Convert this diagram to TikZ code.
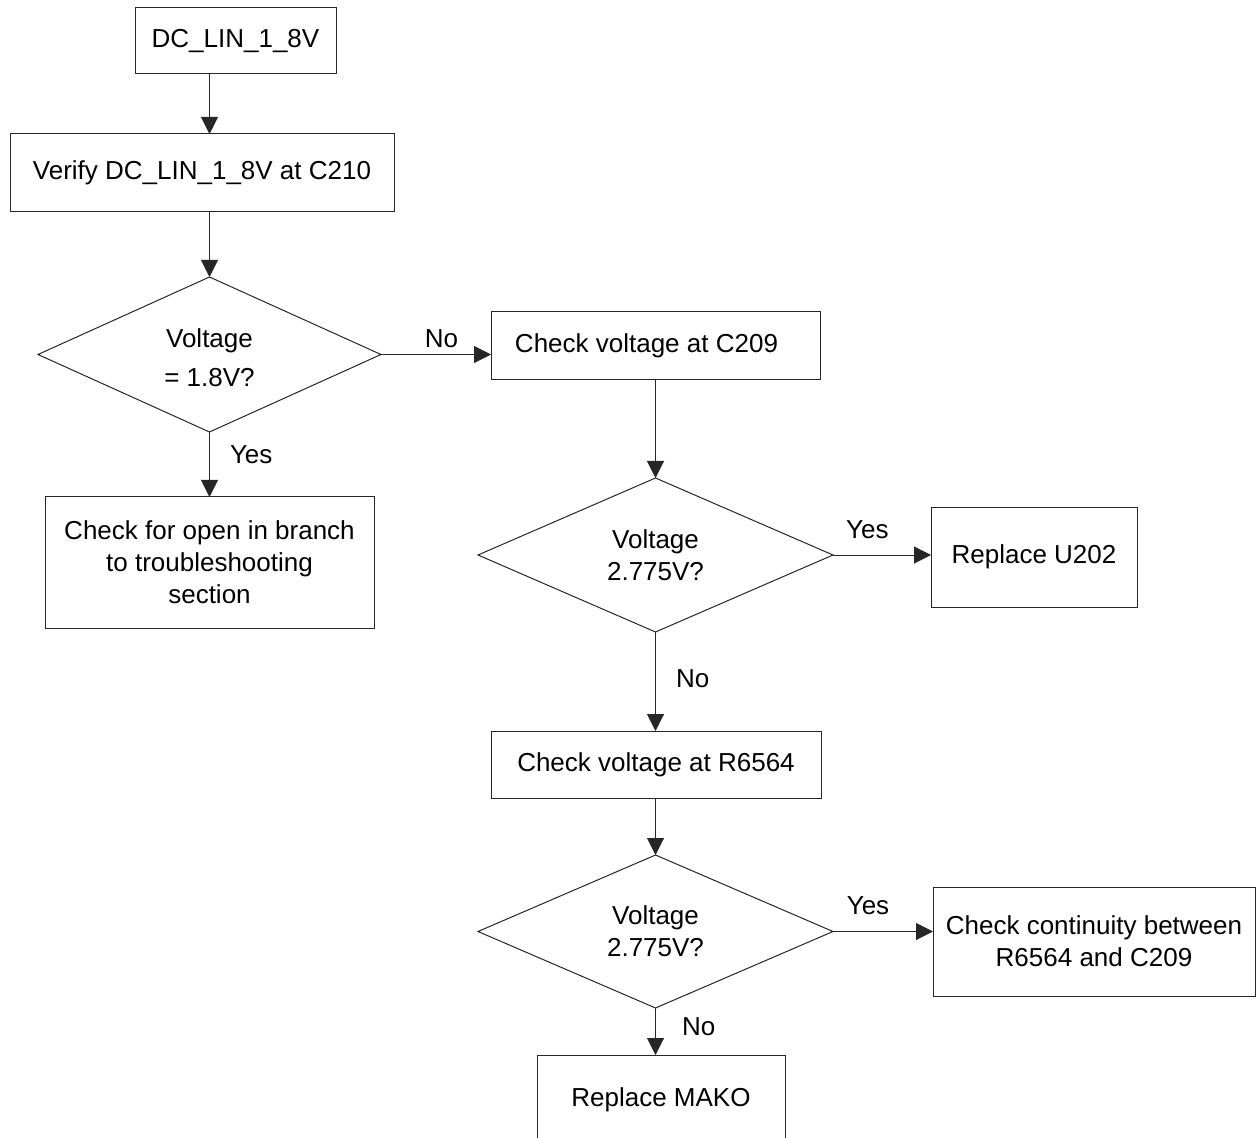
\documentclass[tikz,border=0pt]{standalone}
\usepackage{fontspec}
\setmainfont{Liberation Sans}
\usetikzlibrary{shapes.geometric, arrows.meta, positioning}

\begin{document}
\begin{tikzpicture}[
      x=0.5pt, y=-0.5pt,
      every node/.style={font=\fontsize{13pt}{16pt}\selectfont, align=center},
      box/.style={draw=black!85, line width=0.5pt, rectangle, outer sep=0pt, inner sep=0pt},
      decision/.style={draw=black!85, line width=0.5pt, diamond, aspect=2.2, outer sep=0pt, inner sep=0pt},
      arrow/.style={draw=black!85, line width=0.5pt, -{Triangle[length=8.5pt, width=8.5pt]}},
      lbl/.style={inner sep=3pt}
    ]
      \clip (0,0) rectangle (1257,1138);

      % left column
      \node[box, minimum width=100.5pt, minimum height=33pt] (start) at (235.5,41) {DC\_LIN\_1\_8V};
      \node[box, minimum width=192pt, minimum height=39pt] (verify) at (202,173) {Verify DC\_LIN\_1\_8V at C210};
      \node[decision, minimum width=171.5pt, minimum height=77.5pt] (dec1) at (209.5,354.5)
        {\raisebox{-3.25pt}[\height][\depth]{\begin{tabular}{@{}c@{}}Voltage\\[3.5pt] = 1.8V?\end{tabular}}};
      \node[box, minimum width=164.5pt, minimum height=65.5pt] (branch) at (209.5,562.5) {Check for open in branch\\ to troubleshooting\\ section};

      % right column
      \node[box, minimum width=164.5pt, minimum height=34pt] (chkc) at (655.5,346) {\hspace*{-9pt}Check voltage at C209};
      \node[decision, minimum width=177.5pt, minimum height=77pt] (dec2) at (655.5,555) {Voltage\\ 2.775V?};
      \node[box, minimum width=103pt, minimum height=50pt] (repu) at (1034,557) {Replace U202};
      \node[box, minimum width=165pt, minimum height=33.5pt] (chkr) at (656,764.5) {Check voltage at R6564};
      \node[decision, minimum width=177.5pt, minimum height=76.5pt] (dec3) at (655.5,931.5) {Voltage\\ 2.775V?};
      \node[box, minimum width=161pt, minimum height=54.5pt] (cont) at (1094,941.5) {Check continuity between\\ R6564 and C209};
      \node[box, minimum width=124pt, minimum height=45pt] (mako) at (661,1100) {Replace MAKO};

      % connectors
      \draw[arrow] (start.south -| dec1) -- (verify.north -| dec1);
      \draw[arrow] (verify.south -| dec1) -- (dec1.north);
      \draw[arrow] (dec1.south) -- node[lbl, right, pos=0.35, xshift=7pt] (yes1) {Yes} (branch.north -| dec1);
      \draw[arrow] (dec1.east) -- node[lbl, above, pos=0.55] (no1) {No} (dec1.east -| chkc.west);
      \draw[arrow] (chkc.south) -- (dec2.north);
      \draw[arrow] (dec2.east) -- node[lbl, above, pos=0.35, yshift=5pt] (yes2) {Yes} (dec2.east -| repu.west);
      \draw[arrow] (dec2.south) -- node[lbl, right, pos=0.47, xshift=7pt] (no2) {No} (dec2.south |- chkr.north);
      \draw[arrow] (chkr.south -| dec3) -- (dec3.north);
      \draw[arrow] (dec3.east) -- node[lbl, above, pos=0.35, yshift=5pt] (yes3) {Yes} (dec3.east -| cont.west);
      \draw[arrow] (dec3.south) -- node[lbl, right, pos=0.4, xshift=10pt] (no3) {No} (dec3.south |- mako.north);
  \end{tikzpicture}
\end{document}
